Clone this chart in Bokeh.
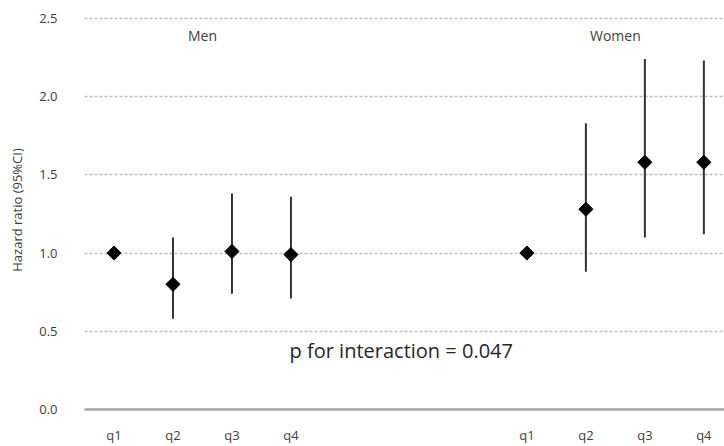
import math
from bokeh.plotting import figure
from bokeh.models import FixedTicker, Range1d, ColumnDataSource
from bokeh.core.properties import value
from bokeh.embed import file_html
from bokeh.resources import INLINE

# ---- data ----
quartiles = ["q1", "q2", "q3", "q4"]
men_hr = [1.00, 0.80, 1.01, 0.99]
men_lo = [1.00, 0.58, 0.74, 0.71]
men_hi = [1.00, 1.10, 1.38, 1.36]
women_hr = [1.00, 1.28, 1.58, 1.58]
women_lo = [1.00, 0.88, 1.10, 1.12]
women_hi = [1.00, 1.83, 2.24, 2.23]
groups = ["Men", "Women"]
y_ticks = [0.0, 0.5, 1.0, 1.5, 2.0, 2.5]
p_text = "p for interaction = 0.047"

FONT = "Open Sans"
GAP = 7  # slot offset of the second group

men_x = [i for i in range(len(quartiles))]
women_x = [i + GAP for i in range(len(quartiles))]
xs = men_x + women_x
hr = men_hr + women_hr
lo = men_lo + women_lo
hi = men_hi + women_hi
src = ColumnDataSource(dict(x=xs, hr=hr, lo=lo, hi=hi))

p = figure(width=724, height=446, output_backend="svg", toolbar_location=None,
           x_range=Range1d(-0.5, 10.35), y_range=Range1d(0, 2.55),
           min_border_left=84, min_border_right=0, min_border_top=10, min_border_bottom=37)
p.outline_line_color = None
p.background_fill_color = "white"
p.border_fill_color = "white"

# grid
p.xgrid.visible = False
p.ygrid.ticker = FixedTicker(ticks=[t for t in y_ticks if t > 0])
p.ygrid.grid_line_color = "#bdbdbd"
p.ygrid.grid_line_dash = "3 2"
p.ygrid.grid_line_width = 1.5

# y axis
p.yaxis.ticker = FixedTicker(ticks=y_ticks)
p.yaxis.major_label_overrides = {t: f"{t:.1f}" for t in y_ticks}
p.yaxis.axis_line_color = None
p.yaxis.major_tick_line_color = None
p.yaxis.minor_tick_line_color = None
p.yaxis.major_label_standoff = 21
p.yaxis.major_label_text_font = FONT
p.yaxis.major_label_text_font_size = "13px"
p.yaxis.major_label_text_color = "#404040"
p.yaxis.axis_label = "Hazard ratio (95%CI)"
p.yaxis.axis_label_text_font = FONT
p.yaxis.axis_label_text_font_size = "13px"
p.yaxis.axis_label_text_font_style = "normal"
p.yaxis.axis_label_text_color = "#404040"
p.yaxis.axis_label_standoff = 10

# x axis
p.xaxis.ticker = FixedTicker(ticks=xs)
p.xaxis.major_label_overrides = {x: q for x, q in zip(xs, quartiles + quartiles)}
p.xaxis.axis_line_color = "#a6a6a6"
p.xaxis.axis_line_width = 2.5
p.xaxis.major_tick_line_color = None
p.xaxis.minor_tick_line_color = None
p.xaxis.major_label_standoff = 10
p.xaxis.major_label_text_font = FONT
p.xaxis.major_label_text_font_size = "13px"
p.xaxis.major_label_text_font_style = "normal"
p.xaxis.major_label_text_color = "#404040"

# whiskers and markers
p.segment(x0="x", y0="lo", x1="x", y1="hi", source=src, line_color="#333333", line_width=2)
p.scatter(x="x", y="hr", source=src, marker="square", angle=math.pi / 4, size=10,
          fill_color="black", line_color="black")

# group labels
p.text(x=[1.5, 1.5 + GAP], y=[2.39, 2.39], text=groups,
       text_font=value(FONT), text_font_size="14px", text_color="#404040",
       text_align="center", text_baseline="middle")

# p value annotation
p.text(x=[4.87], y=[0.38], text=[p_text],
       text_font=value(FONT), text_font_size="20px", text_color="#262626",
       text_align="center", text_baseline="middle")

open("out.html", "w").write(file_html(p, INLINE))
